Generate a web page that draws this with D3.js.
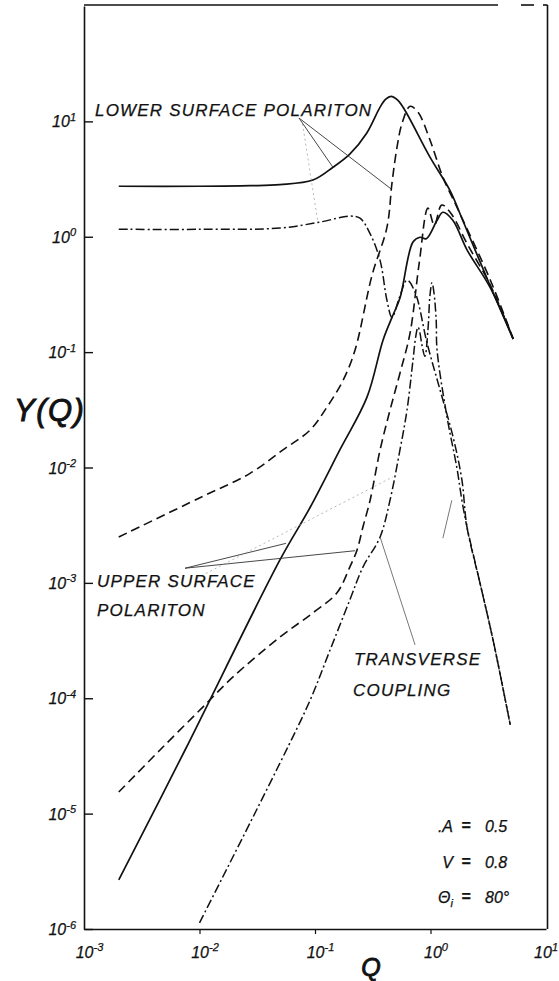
<!DOCTYPE html>
<html><head><meta charset="utf-8">
<script src="https://cdn.jsdelivr.net/npm/d3@7"></script>
<style>
body{margin:0;background:#fff}
svg{display:block}
text{font-family:"Liberation Sans","DejaVu Sans",sans-serif;font-style:italic;fill:#111;stroke:#111;stroke-width:0.25px}
</style>
</head><body>
<svg id="chart" width="559" height="981"></svg>
<script>
// ---- data: Y(Q) for each contribution, as [Q, Y] pairs ----
// lower surface polariton
const lowerSolid = [[0.002,2.74],[0.01,2.74],[0.0274,2.77],[0.0497,2.83],[0.096,3.1],[0.143,4.0],[0.2,5.2],[0.28,7.9],[0.366,13.3],[0.41,15.6],[0.455,16.5],[0.52,15.3],[0.6,12.5],[0.99,4.9],[1.48,2.5],[1.9,1.39],[3.27,0.38],[5.2,0.13]];
const lowerDashed = [[0.002,0.0025],[0.0102,0.0055],[0.0274,0.0089],[0.0528,0.0142],[0.0906,0.0211],[0.127,0.0334],[0.175,0.057],[0.222,0.104],[0.312,0.465],[0.42,1.21],[0.464,2.92],[0.513,5.97],[0.567,9.6],[0.665,13.5],[0.78,12.0],[0.99,6.9],[1.28,3.28],[1.69,1.81],[3.3,0.42],[5.2,0.13]];
const lowerDashDot = [[0.002,1.16],[0.01,1.16],[0.0497,1.19],[0.11,1.34],[0.2,1.51],[0.245,1.45],[0.299,1.07],[0.365,0.63],[0.42,0.28],[0.464,0.2],[0.54,0.3],[0.626,0.42],[0.735,0.331],[0.933,0.12],[1.21,0.047],[1.57,0.0183],[1.87,0.0078],[2.07,0.00305],[2.68,0.001],[3.48,0.00032],[4.9,0.000059]];
// upper surface polariton
const upperSolid = [[0.002,2.66e-6],[0.0075,3.56e-5],[0.0497,0.00158],[0.0906,0.0045],[0.164,0.0142],[0.282,0.0407],[0.388,0.127],[0.464,0.2],[0.544,0.294],[0.705,0.9],[0.81,0.99],[0.92,0.96],[1.14,1.39],[1.28,1.63],[1.56,1.39],[2.07,0.77],[3.3,0.36],[5.2,0.13]];
const upperDashed = [[0.002,1.54e-5],[0.00455,3.56e-5],[0.0116,9.1e-5],[0.0195,0.000153],[0.0497,0.000339],[0.096,0.00055],[0.155,0.00082],[0.2,0.00137],[0.231,0.00192],[0.26,0.00305],[0.3,0.0052],[0.366,0.0142],[0.446,0.0314],[0.544,0.0657],[0.665,0.146],[0.8,0.6],[0.95,1.77],[1.08,1.26],[1.25,1.88],[1.5,1.6],[2.1,0.85],[3.3,0.38],[5.2,0.13]];
// transverse coupling
const transverseDashDot = [[0.01,1.13e-6],[0.0497,2.74e-5],[0.0906,9.6e-5],[0.135,0.000262],[0.2,0.00071],[0.26,0.00137],[0.366,0.0025],[0.446,0.0052],[0.544,0.0142],[0.626,0.0314],[0.705,0.085],[0.748,0.14],[0.78,0.165],[0.811,0.146],[0.843,0.115],[0.895,0.092],[0.95,0.155],[0.99,0.312],[1.03,0.40],[1.07,0.331],[1.12,0.189],[1.14,0.104],[1.39,0.0274],[1.69,0.01],[1.87,0.0052],[2.07,0.00305],[2.68,0.001],[3.48,0.00032],[4.9,0.000059]];

// axes
const xTicks = [1e-3,1e-2,1e-1,1e0,1e1];
const xExp = ["-3","-2","-1","0","1"];
const yTicks = [1e-6,1e-5,1e-4,1e-3,1e-2,1e-1,1e0,1e1];
const yExp = ["-6","-5","-4","-3","-2","-1","0","1"];

// parameters printed in the lower right
const paramNames = [".A","V","\u0398"];
const paramValues = ["0.5","0.8","80\u00B0"];

// annotation pointers, [from, to] in (Q, Y)
const lowerPointers = [[[0.0726,10.7],[0.143,4.0]],[[0.0726,10.7],[0.455,2.6]]];
const lowerFaint = [[[0.078,9.5],[0.106,1.33]]];
const upperPointers = [[[0.0075,0.00134],[0.223,0.0019]],[[0.0075,0.00134],[0.056,0.0022]]];
const upperFaint = [[[0.0095,0.0011],[0.473,0.0083]]];
const transversePointers = [[[0.366,0.0025],[0.735,0.00029]],[[1.53,0.0052],[1.28,0.00244]]];

const svg = d3.select("#chart");
const x = d3.scaleLog().domain([1e-3,1e1]).range([84,546]);
const y = d3.scaleLog().domain([1e-6,1e2]).range([929,6]);

const ink = "#111";

// frame: top edge has small breaks, right edge full height
const gFrame = svg.append("g").attr("stroke",ink).attr("stroke-width",1.6).attr("fill","none");
const topY = y(1e2)-1, rightX = x(1e1)+1.5;
gFrame.append("line").attr("x1",x(1e-3)).attr("x2",498).attr("y1",topY).attr("y2",topY);
gFrame.append("line").attr("x1",521).attr("x2",534).attr("y1",topY).attr("y2",topY);
gFrame.append("line").attr("x1",543).attr("x2",rightX).attr("y1",topY).attr("y2",topY);
gFrame.append("path").attr("d",`M${rightX},${topY}V${y(1e-6)}`);

// left axis: ticks pointing inward
const yAxis = svg.append("g").attr("transform",`translate(${x(1e-3)},0)`)
  .call(d3.axisLeft(y).tickValues(yTicks).tickSizeInner(-9).tickSizeOuter(0).tickPadding(17));
yAxis.select(".domain").attr("stroke",ink).attr("stroke-width",1.6);
yAxis.selectAll(".tick line").attr("stroke",ink).attr("stroke-width",1.4);
yAxis.selectAll(".tick text").each(function(d,i){
  const t = d3.select(this).text(null).attr("font-size",16).attr("text-anchor","end").attr("dy","0.35em").attr("x",-8);
  t.append("tspan").text("10");
  t.append("tspan").attr("dy","-0.6em").attr("font-size",11).text(yExp[i]);
});

// bottom axis: short outward ticks; the last label is kept inside the page
const xAxis = svg.append("g").attr("transform",`translate(0,${y(1e-6)})`)
  .call(d3.axisBottom(x).tickValues(xTicks).tickSizeInner(5).tickSizeOuter(0));
xAxis.select(".domain").attr("stroke",ink).attr("stroke-width",1.6);
xAxis.selectAll(".tick line").attr("stroke",ink).attr("stroke-width",1.2)
  .attr("opacity",(d,i)=> (i===0||i===4)?0:1);
xAxis.selectAll(".tick text").each(function(d,i){
  const last = i===xTicks.length-1;
  const t = d3.select(this).text(null).attr("font-size",16).attr("dy",0).attr("y",29)
    .attr("text-anchor", last ? "end" : "middle").attr("x", last ? 559-x(d)-1.5 : 5);
  t.append("tspan").text("10");
  t.append("tspan").attr("dy","-0.6em").attr("font-size",11).text(xExp[i]);
});

// axis titles
svg.append("text").attr("x",14).attr("y",421).attr("font-size",31).attr("letter-spacing",1.5).style("stroke-width","0.9px").text("Y(Q)");
svg.append("text").attr("x",371).attr("y",976).attr("font-size",25).attr("text-anchor","middle").style("stroke-width","0.9px").text("Q");

// curves
const line = d3.line().x(d=>x(d[0])).y(d=>y(d[1])).curve(d3.curveCatmullRom.alpha(0.5));
const gCurves = svg.append("g").attr("fill","none").attr("stroke",ink).attr("stroke-linecap","butt").attr("stroke-linejoin","round");
const styles = {solid:null, dashed:"9 5", dashdot:"9 3 2 3"};
const curves = [
  [lowerSolid,"solid",1.7],[lowerDashed,"dashed",1.6],[lowerDashDot,"dashdot",1.5],
  [upperSolid,"solid",1.7],[upperDashed,"dashed",1.6],[transverseDashDot,"dashdot",1.5]
];
curves.forEach(([pts,st,w])=>{
  gCurves.append("path").attr("d",line(pts)).attr("stroke-width",w).attr("stroke-dasharray",styles[st]);
});

// pointers
const gPtr = svg.append("g").attr("fill","none");
function pointers(list,w,col,dash){
  list.forEach(([a,b])=>{
    gPtr.append("line").attr("x1",x(a[0])).attr("y1",y(a[1])).attr("x2",x(b[0])).attr("y2",y(b[1]))
      .attr("stroke",col).attr("stroke-width",w).attr("stroke-dasharray",dash);
  });
}
pointers(lowerPointers,0.9,"#333",null);
pointers(lowerFaint,0.7,"#999","2 3");
pointers(upperPointers,0.9,"#333",null);
pointers(upperFaint,0.7,"#999","2 3");
pointers(transversePointers,0.8,"#555",null);

// curve labels
const lab = svg.append("g").attr("font-size",17).attr("letter-spacing",1.2);
lab.append("text").attr("x",95).attr("y",116).text("LOWER  SURFACE  POLARITON");
lab.append("text").attr("x",97).attr("y",587).text("UPPER  SURFACE");
lab.append("text").attr("x",97).attr("y",616).text("POLARITON");
lab.append("text").attr("x",354).attr("y",665).text("TRANSVERSE");
lab.append("text").attr("x",353).attr("y",696).text("COUPLING");

// parameter block
const pb = svg.append("g").attr("font-size",16);
const rowsY = [832,868,903];
paramNames.forEach((n,i)=>{
  const t = pb.append("text").attr("x",453).attr("y",rowsY[i]).attr("text-anchor","end").text(n);
  if(i===2) t.append("tspan").attr("font-size",11).attr("dy",4).text("i");
  pb.append("text").attr("x",466).attr("y",rowsY[i]-1).attr("text-anchor","middle").attr("font-style","normal").attr("font-weight","bold").text("=");
  pb.append("text").attr("x",485).attr("y",rowsY[i]).text(paramValues[i]);
});
</script>
</body></html>
